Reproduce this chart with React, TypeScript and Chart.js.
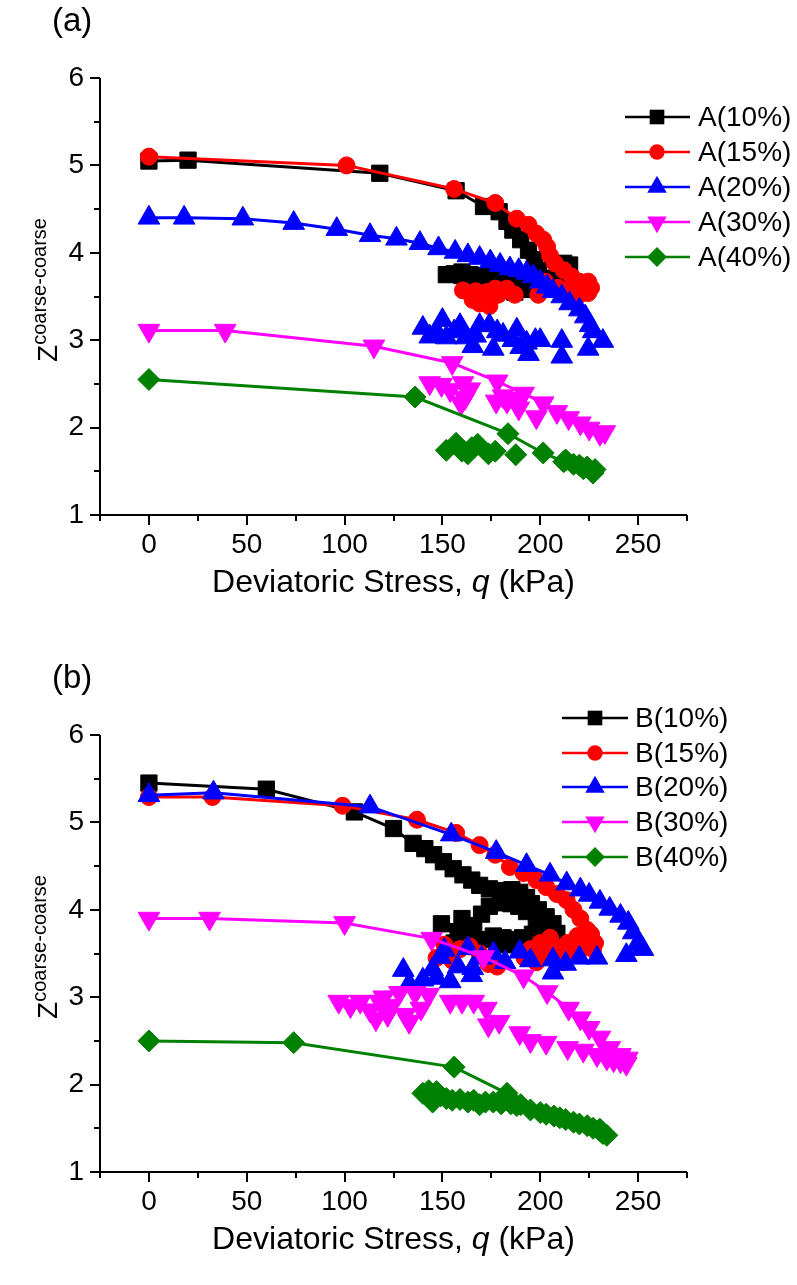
import React, { useEffect, useRef } from 'react';
import { Chart, registerables } from 'chart.js';

Chart.register(...registerables);

type P = [number, number];

const FONT = "'Liberation Sans', Arial, sans-serif";

// ---- axes ----
const xMajorTicks = [0, 50, 100, 150, 200, 250];
const xMinorTicks = [-25, 25, 75, 125, 175, 225, 275];
const yMajorTicks = [1, 2, 3, 4, 5, 6];
const yMinorTicks = [1.5, 2.5, 3.5, 4.5, 5.5];
const xTitle = ['Deviatoric Stress, ', 'q', ' (kPa)'];
const yTitleMain = 'Z';
const yTitleSup = 'coarse-coarse';

// ---- series styles ----
const seriesColors = ['#000000', '#ff0000', '#0000ff', '#ff00ff', '#008000'];
const seriesShapes = ['rect', 'circle', 'triangle', 'triangle', 'rectRot'];
const seriesRotations = [0, 0, 0, 180, 0];
const seriesRadii = [11.5, 8.5, 12.5, 12.5, 11];

// ---- panel (a) ----
const namesA = ['A(10%)', 'A(15%)', 'A(20%)', 'A(30%)', 'A(40%)'];
const a10Line: P[] = [[0,5.05],[20,5.06],[118,4.91],[157,4.71],[171,4.53],[179,4.47],[183,4.36],[186,4.26],[190,4.15],[194,4.03],[197,3.92],[199,3.8],[203,3.71],[208,3.62],[212,3.88],[215,3.86],[214,3.75],[210,3.68]];
const a10Pts: P[] = [[152,3.75],[156,3.76],[160,3.74],[164,3.75],[168,3.73],[172,3.74],[176,3.72],[180,3.72],[184,3.71],[188,3.7],[192,3.69],[196,3.68],[200,3.66],[186,3.6],[191,3.58],[187,3.55],[160,3.78]];
const a15Line: P[] = [[0,5.1],[101,5.0],[156,4.73],[177,4.57],[188,4.39],[194,4.32],[198,4.22],[201.5,4.15],[203.5,4.07],[205,3.97],[207.5,3.88],[212,3.8],[216,3.73],[220,3.67],[224.5,3.67],[226,3.6],[224.5,3.54]];
const a15Pts: P[] = [[220,3.52],[213.5,3.56],[202.5,3.67],[199,3.52],[160.5,3.57],[165.5,3.46],[167,3.56],[169,3.42],[172.5,3.55],[174,3.39],[177,3.59],[178.5,3.52],[183,3.59],[187,3.52],[209,3.6],[217,3.6]];
const a20Line: P[] = [[0,4.4],[18,4.4],[48,4.39],[74,4.34],[96,4.27],[113,4.2],[126.5,4.16],[138.5,4.11],[148,4.05],[156.5,4.01],[163,3.97],[169,3.94],[174.5,3.9],[179.5,3.86],[184.5,3.82],[189,3.8],[193,3.77],[196.5,3.73],[200,3.67],[203.5,3.61],[206.5,3.56],[211,3.5],[215,3.42],[220,3.35],[223,3.27],[225.5,3.17],[227,3.1]];
const a20Pts: P[] = [[140,3.14],[150,3.23],[159,3.17],[143.5,3.04],[169,3.17],[174,3.17],[165.5,2.93],[176,2.9],[181,3.06],[188,3.12],[193,2.97],[197.5,3.0],[194,2.84],[211,2.99],[211,2.81],[224.5,2.9],[232,2.99],[152,3.03],[162,3.03],[186,3.0],[147,3.1],[156,3.1],[167,3.05],[178,3.1],[200,3.0],[190,2.92]];
const a30Line: P[] = [[0,3.11],[39,3.11],[115,2.93],[155,2.74],[178,2.53],[191.5,2.39],[201.5,2.28],[208.5,2.18],[214.5,2.11],[220.5,2.05],[225,1.99],[230.5,1.93],[233,1.95]];
const a30Pts: P[] = [[143.5,2.51],[149.5,2.49],[154,2.43],[160.5,2.51],[161.5,2.34],[164,2.44],[159.5,2.28],[177.5,2.3],[183,2.3],[189,2.22],[198,2.12],[181,2.36],[189.5,2.33]];
const a40Line: P[] = [[0,2.55],[136,2.35],[183.5,1.93],[201.5,1.71],[212,1.61],[217,1.58],[222,1.53],[227,1.48],[228,1.52]];
const a40Pts: P[] = [[152,1.74],[157,1.82],[160,1.73],[163,1.7],[165,1.77],[168,1.81],[173.5,1.7],[177,1.73],[187.5,1.69],[213,1.63],[220,1.57],[224,1.55]];

// ---- panel (b) ----
const namesB = ['B(10%)', 'B(15%)', 'B(20%)', 'B(30%)', 'B(40%)'];
const b10Line: P[] = [[0,5.45],[60,5.38],[105,5.12],[125,4.93],[135,4.76],[141,4.7],[145.5,4.63],[150.5,4.55],[155.5,4.47],[160.5,4.4],[165,4.34],[169,4.28],[174,4.24],[179.5,4.22],[185.5,4.23],[189.5,4.2],[193,4.14],[195.5,4.07],[199,4.0],[203,3.92],[206.5,3.84],[208.5,3.73]];
const b10Pts: P[] = [[149.5,3.84],[156,3.62],[158,3.75],[160,3.9],[163,3.68],[166,3.82],[170,3.95],[171,3.66],[174,4.04],[176,3.7],[180,4.08],[181,3.68],[185,4.07],[186,3.66],[189,4.04],[191,3.68],[193,3.98],[196,3.72],[198,3.9],[201,3.76],[204,3.8],[178,3.61],[184,3.6],[190,3.62]];
const b15Line: P[] = [[0,5.29],[32.5,5.29],[99,5.19],[137,5.03],[157,4.88],[169,4.74],[177,4.63],[184.5,4.49],[191.5,4.42],[198,4.34],[203,4.26],[208.5,4.18],[213.5,4.11],[217,4.0],[220.5,3.9],[224,3.77],[222,3.66],[217,3.62]];
const b15Pts: P[] = [[147,3.45],[151,3.6],[155,3.42],[159,3.55],[164,3.58],[169,3.5],[173.5,3.38],[178,3.35],[192,3.45],[195,3.55],[198,3.4],[200,3.62],[203,3.5],[205,3.68],[208,3.45],[210,3.56],[212,3.4],[214,3.62],[216,3.5],[219,3.7],[221,3.55],[224,3.62],[226,3.72],[228,3.62],[227,3.55]];
const b20Line: P[] = [[0,5.31],[33,5.34],[113,5.18],[154.5,4.86],[177.5,4.66],[193,4.51],[205,4.4],[213.5,4.3],[220.5,4.23],[225,4.17],[230.5,4.09],[235.5,4.01],[241,3.93],[245,3.85],[247.5,3.74],[249.5,3.6],[252.5,3.55],[244,3.48]];
const b20Pts: P[] = [[130,3.31],[133,3.15],[140,3.2],[147,3.22],[149,3.46],[151,3.54],[154,3.18],[158,3.35],[163,3.56],[165.5,3.33],[170,3.45],[176,3.5],[182,3.4],[189.5,3.52],[195,3.42],[206.5,3.43],[206.5,3.28],[213,3.38],[220,3.45],[229,3.45],[165,3.25],[145,3.32]];
const b30Line: P[] = [[0,3.9],[31,3.9],[100,3.85],[144.5,3.67],[171,3.46],[191.5,3.24],[203.5,3.06],[214.5,2.87],[220.5,2.76],[225,2.65],[230.5,2.54],[235.5,2.42],[241,2.34],[244.5,2.3],[237.5,2.28]];
const b30Pts: P[] = [[97,2.95],[103,2.9],[108,2.95],[113,2.85],[116,2.75],[120,3.0],[124,2.9],[128,3.05],[131,2.8],[133,2.72],[136,3.05],[139,2.87],[143,3.03],[154,2.95],[160,2.95],[166,2.95],[172.5,2.87],[173.5,2.68],[179,2.72],[189.5,2.59],[195,2.5],[203,2.48],[214,2.42],[222,2.39],[229,2.34],[234,2.3],[241,2.27],[244,2.24],[118,2.95],[122,2.8]];
const b40Line: P[] = [[0,2.5],[74,2.48],[156,2.2],[183,1.9],[190,1.77],[200,1.68],[210,1.62],[220,1.55],[230,1.48],[234,1.42]];
const b40Pts: P[] = [[140,1.9],[143,1.93],[145,1.8],[147,1.92],[149,1.87],[152,1.84],[155,1.82],[159,1.83],[163,1.8],[166,1.82],[169,1.77],[172,1.8],[176,1.8],[180,1.78],[185,1.78],[188,1.76],[195,1.71],[203,1.66],[207,1.64],[213,1.6],[217,1.57],[224,1.53],[227,1.5],[230.5,1.49],[232,1.44]];

interface PanelDef {
  tag: string;
  names: string[];
  lines: P[][];
  pts: P[][];
  legend: { lineStart: number; lineEnd: number; marker: number; text: number; rows: number[] };
}

const panels: PanelDef[] = [
  {
    tag: '(a)',
    names: namesA,
    lines: [a10Line, a15Line, a20Line, a30Line, a40Line],
    pts: [a10Pts, a15Pts, a20Pts, a30Pts, a40Pts],
    legend: { lineStart: 625, lineEnd: 690, marker: 657, text: 698, rows: [117, 152, 187, 222, 257] },
  },
  {
    tag: '(b)',
    names: namesB,
    lines: [b10Line, b15Line, b20Line, b30Line, b40Line],
    pts: [b10Pts, b15Pts, b20Pts, b30Pts, b40Pts],
    legend: { lineStart: 562, lineEnd: 628, marker: 595, text: 635, rows: [61, 96, 130, 165, 200] },
  },
];

const W = 797;
const PLOT_TOP = 78;
const PLOT_BOTTOM = 515;
const PLOT_LEFT = 100;
const PLOT_RIGHT = 687;

function drawMarker(ctx: CanvasRenderingContext2D, i: number, x: number, y: number, r: number) {
  ctx.fillStyle = seriesColors[i];
  ctx.beginPath();
  const shape = seriesShapes[i];
  if (shape === 'rect') {
    const s = r * Math.SQRT1_2;
    ctx.rect(x - s, y - s, 2 * s, 2 * s);
  } else if (shape === 'circle') {
    ctx.arc(x, y, r, 0, Math.PI * 2);
  } else if (shape === 'triangle') {
    const d = seriesRotations[i] === 180 ? -1 : 1;
    ctx.moveTo(x, y - d * r);
    ctx.lineTo(x + r * Math.sin(Math.PI * 2 / 3), y + d * r / 2);
    ctx.lineTo(x - r * Math.sin(Math.PI * 2 / 3), y + d * r / 2);
    ctx.closePath();
  } else {
    ctx.moveTo(x - r, y);
    ctx.lineTo(x, y - r);
    ctx.lineTo(x + r, y);
    ctx.lineTo(x, y + r);
    ctx.closePath();
  }
  ctx.fill();
}

function makeConfig(panel: PanelDef, height: number): any {
  const datasets: any[] = [];
  panel.lines.forEach((line, i) => {
    const common = {
      borderColor: seriesColors[i],
      backgroundColor: seriesColors[i],
      pointBackgroundColor: seriesColors[i],
      pointBorderColor: seriesColors[i],
      pointStyle: seriesShapes[i],
      rotation: seriesRotations[i],
      pointRotation: seriesRotations[i],
      pointRadius: seriesRadii[i],
      pointHoverRadius: seriesRadii[i],
      pointBorderWidth: 1,
      tension: 0,
    };
    datasets.push({
      ...common,
      label: panel.names[i],
      data: line.map(([x, y]) => ({ x, y })),
      showLine: true,
      borderWidth: 3,
      order: 20 - 2 * i,
    });
    datasets.push({
      ...common,
      label: panel.names[i] + ' scatter',
      data: panel.pts[i].map(([x, y]) => ({ x, y })),
      showLine: false,
      borderWidth: 0,
      order: 21 - 2 * i,
    });
  });

  const decor = {
    id: 'decor',
    beforeDatasetsDraw(chart: any) {
      const { ctx, chartArea: ca, scales } = chart;
      const xs = scales.x;
      const ys = scales.y;
      ctx.save();
      ctx.strokeStyle = '#000';
      ctx.lineWidth = 2;
      ctx.beginPath();
      ctx.moveTo(ca.left, ca.top);
      ctx.lineTo(ca.left, ca.bottom + 1);
      ctx.moveTo(ca.left - 1, ca.bottom);
      ctx.lineTo(ca.right, ca.bottom);
      xMajorTicks.forEach((v) => {
        const px = Math.round(xs.getPixelForValue(v));
        ctx.moveTo(px, ca.bottom);
        ctx.lineTo(px, ca.bottom + 10);
      });
      xMinorTicks.forEach((v) => {
        const px = Math.round(xs.getPixelForValue(v));
        ctx.moveTo(px, ca.bottom);
        ctx.lineTo(px, ca.bottom + 6);
      });
      yMajorTicks.forEach((v) => {
        const py = Math.round(ys.getPixelForValue(v));
        ctx.moveTo(ca.left, py);
        ctx.lineTo(ca.left - 10, py);
      });
      yMinorTicks.forEach((v) => {
        const py = Math.round(ys.getPixelForValue(v));
        ctx.moveTo(ca.left, py);
        ctx.lineTo(ca.left - 6, py);
      });
      ctx.stroke();
      ctx.restore();
    },
    afterDraw(chart: any) {
      const { ctx, chartArea: ca } = chart;
      ctx.save();
      ctx.fillStyle = '#000';
      ctx.textBaseline = 'alphabetic';
      // panel tag
      ctx.font = `33px ${FONT}`;
      ctx.textAlign = 'left';
      ctx.fillText(panel.tag, 52, 31);
      // x title
      const f1 = `32px ${FONT}`;
      const f2 = `italic 32px ${FONT}`;
      ctx.font = f1;
      const w1 = ctx.measureText(xTitle[0]).width;
      const w3 = ctx.measureText(xTitle[2]).width;
      ctx.font = f2;
      const w2 = ctx.measureText(xTitle[1]).width;
      const total = w1 + w2 + w3;
      let tx = (ca.left + ca.right) / 2 - total / 2;
      const ty = 592;
      ctx.font = f1;
      ctx.fillText(xTitle[0], tx, ty);
      tx += w1;
      ctx.font = f2;
      ctx.fillText(xTitle[1], tx, ty);
      tx += w2;
      ctx.font = f1;
      ctx.fillText(xTitle[2], tx, ty);
      // y title
      ctx.save();
      ctx.translate(57, 290);
      ctx.rotate(-Math.PI / 2);
      const fz = `28px ${FONT}`;
      const fs = `20px ${FONT}`;
      ctx.font = fz;
      const wz = ctx.measureText(yTitleMain).width;
      ctx.font = fs;
      const ws = ctx.measureText(yTitleSup).width;
      const start = -(wz + ws) / 2;
      ctx.font = fz;
      ctx.fillText(yTitleMain, start, 0);
      ctx.font = fs;
      ctx.fillText(yTitleSup, start + wz, -11);
      ctx.restore();
      // legend
      const lg = panel.legend;
      ctx.font = `28px ${FONT}`;
      ctx.textBaseline = 'middle';
      panel.names.forEach((name, i) => {
        const y = lg.rows[i];
        ctx.strokeStyle = seriesColors[i];
        ctx.lineWidth = 2.5;
        ctx.beginPath();
        ctx.moveTo(lg.lineStart, y);
        ctx.lineTo(lg.lineEnd, y);
        ctx.stroke();
        drawMarker(ctx, i, lg.marker, y, seriesRadii[i] * 0.9);
        ctx.fillStyle = '#000';
        ctx.fillText(name, lg.text, y + 1);
      });
      ctx.restore();
    },
  };

  return {
    type: 'line',
    data: { datasets },
    plugins: [decor],
    options: {
      responsive: false,
      animation: false,
      devicePixelRatio: 1,
      layout: { padding: { top: PLOT_TOP, right: W - PLOT_RIGHT, left: 0, bottom: 0 } },
      plugins: { legend: { display: false }, tooltip: { enabled: false }, title: { display: false } },
      events: [],
      scales: {
        x: {
          type: 'linear',
          min: -25,
          max: 275,
          afterBuildTicks: (s: any) => { s.ticks = xMajorTicks.map((v) => ({ value: v })); },
          afterFit: (s: any) => { s.height = height - PLOT_BOTTOM; },
          grid: { display: false, drawTicks: false },
          border: { display: false },
          ticks: { color: '#000', font: { family: FONT, size: 28 }, padding: 13, maxRotation: 0, autoSkip: false },
        },
        y: {
          type: 'linear',
          min: 1,
          max: 6,
          afterBuildTicks: (s: any) => { s.ticks = yMajorTicks.map((v) => ({ value: v })); },
          afterFit: (s: any) => { s.width = PLOT_LEFT; },
          grid: { display: false, drawTicks: false },
          border: { display: false },
          ticks: { color: '#000', font: { family: FONT, size: 28 }, padding: 16, autoSkip: false },
        },
      },
    },
  };
}

function PanelChart({ panel, top, height }: { panel: PanelDef; top: number; height: number }) {
  const ref = useRef<HTMLCanvasElement>(null);
  useEffect(() => {
    if (!ref.current) return;
    const chart = new Chart(ref.current, makeConfig(panel, height));
    return () => chart.destroy();
  }, [panel, height]);
  return (
    <canvas
      ref={ref}
      width={W}
      height={height}
      style={{ position: 'absolute', left: 0, top, width: W, height, display: 'block' }}
    />
  );
}

export default function App() {
  return (
    <div style={{ position: 'absolute', left: 0, top: 0, width: W, height: 1285, background: '#fff', overflow: 'hidden' }}>
      <PanelChart panel={panels[0]} top={0} height={657} />
      <PanelChart panel={panels[1]} top={657} height={628} />
    </div>
  );
}
